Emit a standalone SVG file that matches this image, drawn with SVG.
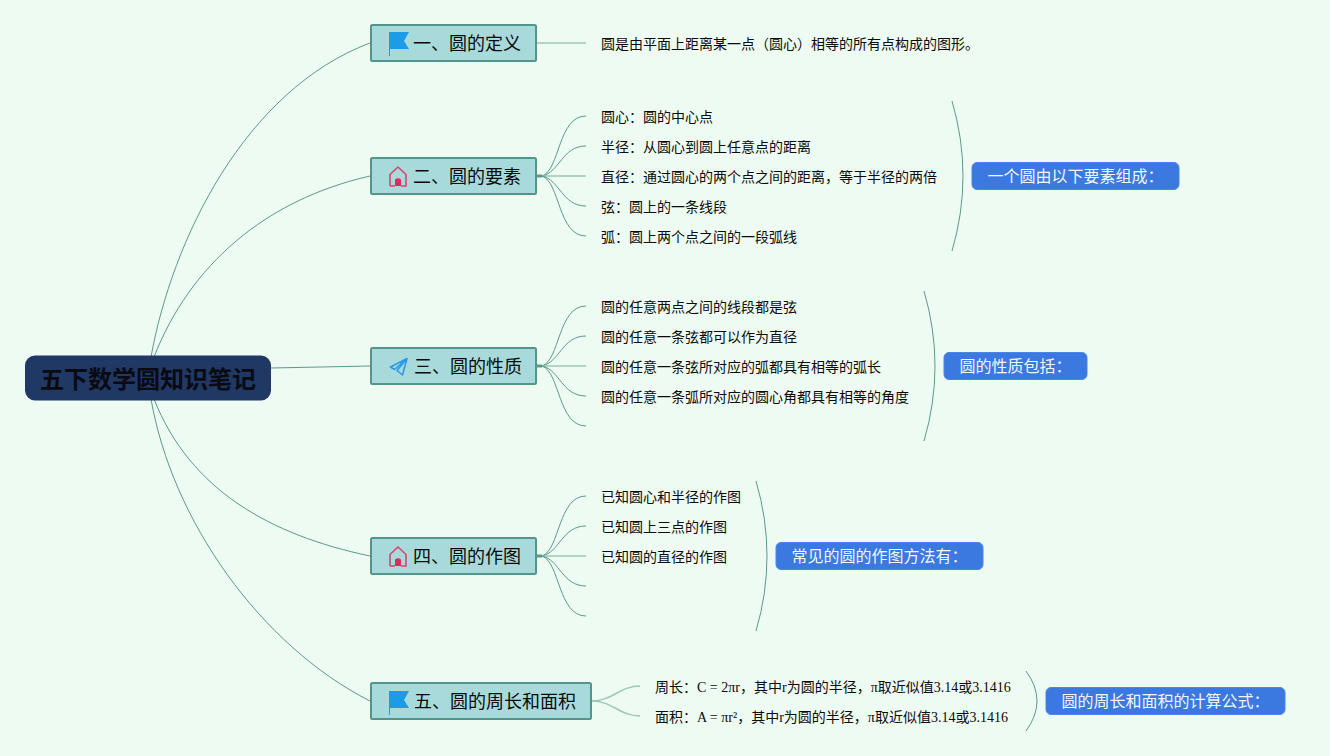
<svg xmlns="http://www.w3.org/2000/svg" width="1330" height="756" viewBox="0 0 1330 756">
<defs>
<style>
text{font-family:"Liberation Serif","Noto Sans CJK SC",serif;dominant-baseline:alphabetic}
.c{fill:none;stroke:#5b9a8b;stroke-width:1}
.s{fill:none;stroke:#9cc7b8;stroke-width:1.5}
.h{fill:none;stroke:#5b9a8b;stroke-width:3}
.b{fill:#a8dadc;stroke:#52958a;stroke-width:2}
.bt{font-size:18px;fill:#0a0a0a}
.l{font-size:14px;fill:#0a0a0a}
.m{fill:#3b78e0;stroke:#4a86e8;stroke-width:1}
.mt{font-size:16px;fill:#f2f7ff;text-anchor:middle}
</style>
<g id="flag"><path d="M0,0H20L15,9L20,17H1V24H0Z" fill="#1c9be6"/></g>
<g id="house"><path d="M-8,19V7.5L0,0L8,7.5V19H3M-3,19H-8" fill="none" stroke="#d6466f" stroke-width="1.6"/><path d="M-3,19V12.5Q0,10 3,12.5V19Z" fill="#d92f5b"/></g>
</defs>
<rect width="1330" height="756" fill="#eefbf2"/>
<g id="connectors">
<path class="c" d="M151,357C172,240 245,90 370,43"/>
<path class="c" d="M154,357C190,265 265,200 370,176"/>
<path class="c" d="M271,368L370,366"/>
<path class="c" d="M154,399C190,490 270,535 370,556"/>
<path class="c" d="M151,399C172,520 260,645 370,701"/>
<path class="s" d="M537,43H586"/>
<path class="h" d="M537,176H542"/>
<path class="c" d="M542,176C560,170 558,116 586,116"/>
<path class="c" d="M542,176C560,172 562,146 586,146"/>
<path class="s" d="M542,176H586"/>
<path class="c" d="M542,176C560,180 562,206 586,206"/>
<path class="c" d="M542,176C560,182 558,236 586,236"/>
<path class="h" d="M537,366H542"/>
<path class="c" d="M542,366C560,360 558,306 586,306"/>
<path class="c" d="M542,366C560,362 562,336 586,336"/>
<path class="s" d="M542,366H586"/>
<path class="c" d="M542,366C560,370 562,396 586,396"/>
<path class="c" d="M542,366C560,372 558,426 586,426"/>
<path class="h" d="M537,556H542"/>
<path class="c" d="M542,556C560,550 558,496 586,496"/>
<path class="c" d="M542,556C560,552 562,526 586,526"/>
<path class="s" d="M542,556H586"/>
<path class="c" d="M542,556C560,560 562,586 586,586"/>
<path class="c" d="M542,556C560,562 558,616 586,616"/>
<path class="s" d="M592,701C612,701 620,686 640,686"/>
<path class="s" d="M592,701C612,701 620,716 640,716"/>
<path class="c" d="M952,101Q974,176 952,251"/>
<path class="c" d="M924,291Q946,366 924,441"/>
<path class="c" d="M756,481Q778,556 756,631"/>
<path class="c" d="M1026,671Q1048,701 1026,731"/>
</g>
<g id="root"><rect x="25" y="355.5" width="246" height="45" rx="10" fill="#1f3864"/><text x="148" y="388" text-anchor="middle" font-size="24" font-weight="700" fill="#0a0a12">五下数学圆知识笔记</text></g>
<g id="n1"><rect class="b" x="371" y="25" width="165" height="36" rx="1.5"/><use href="#flag" x="389" y="32"/><text class="bt" x="413" y="50">一、圆的定义</text></g>
<g id="n2"><rect class="b" x="371" y="158" width="165" height="36" rx="1.5"/><use href="#house" x="398" y="167"/><text class="bt" x="413" y="183">二、圆的要素</text></g>
<g id="n3"><rect class="b" x="371" y="348" width="165" height="36" rx="1.5"/><path d="M390.5,367L407,358.500L402.500,375L397,370.500L407,358.500L394.500,369.500Z" transform="translate(0,0)" fill="none" stroke="#2d9be4" stroke-width="1.6" stroke-linejoin="round"/><text class="bt" x="414" y="373">三、圆的性质</text></g>
<g id="n4"><rect class="b" x="371" y="538" width="165" height="36" rx="1.5"/><use href="#house" x="398" y="547"/><text class="bt" x="413" y="563">四、圆的作图</text></g>
<g id="n5"><rect class="b" x="371" y="683" width="220" height="36" rx="1.500"/><use href="#flag" x="389" y="691"/><text class="bt" x="414" y="708">五、圆的周长和面积</text></g>
<g id="leaves">
<text class="l" x="601" y="49">圆是由平面上距离某一点（圆心）相等的所有点构成的图形。</text>
<text class="l" x="601" y="122">圆心：圆的中心点</text>
<text class="l" x="601" y="152">半径：从圆心到圆上任意点的距离</text>
<text class="l" x="601" y="182">直径：通过圆心的两个点之间的距离，等于半径的两倍</text>
<text class="l" x="601" y="212">弦：圆上的一条线段</text>
<text class="l" x="601" y="242">弧：圆上两个点之间的一段弧线</text>
<text class="l" x="601" y="312">圆的任意两点之间的线段都是弦</text>
<text class="l" x="601" y="342">圆的任意一条弦都可以作为直径</text>
<text class="l" x="601" y="372">圆的任意一条弦所对应的弧都具有相等的弧长</text>
<text class="l" x="601" y="402">圆的任意一条弧所对应的圆心角都具有相等的角度</text>
<text class="l" x="601" y="502">已知圆心和半径的作图</text>
<text class="l" x="601" y="532">已知圆上三点的作图</text>
<text class="l" x="601" y="562">已知圆的直径的作图</text>
<text class="l" x="655" y="692">周长：C = 2πr，其中r为圆的半径，π取近似值3.14或3.1416</text>
<text class="l" x="655" y="722">面积：A = πr²，其中r为圆的半径，π取近似值3.14或3.1416</text>
</g>
<g id="m1"><rect class="m" x="972" y="162.500" width="207" height="27" rx="5"/><text class="mt" x="1075.500" y="182">一个圆由以下要素组成：</text></g>
<g id="m2"><rect class="m" x="944" y="352.500" width="143" height="27" rx="5"/><text class="mt" x="1015.500" y="372">圆的性质包括：</text></g>
<g id="m3"><rect class="m" x="776" y="542.500" width="207" height="27" rx="5"/><text class="mt" x="879.500" y="562">常见的圆的作图方法有：</text></g>
<g id="m4"><rect class="m" x="1046" y="687.500" width="239" height="27" rx="5"/><text class="mt" x="1165.500" y="707">圆的周长和面积的计算公式：</text></g>
</svg>
